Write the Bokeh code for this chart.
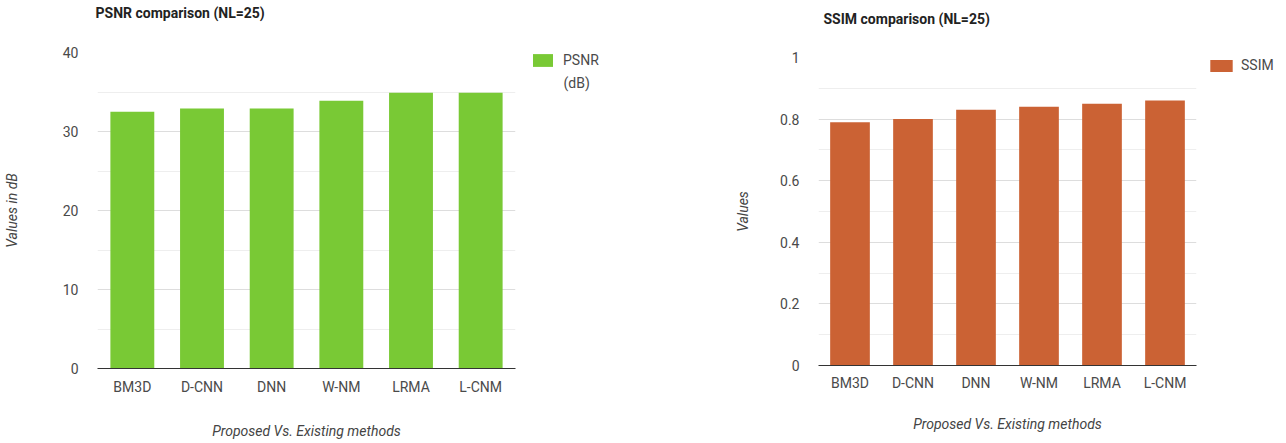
from bokeh.plotting import figure
from bokeh.layouts import row, column
from bokeh.models import Range1d, FactorRange, FixedTicker, Legend, LegendItem, ColumnDataSource, Label
from bokeh.embed import file_html
from bokeh.resources import INLINE

methods = ["BM3D", "D-CNN", "DNN", "W-NM", "LRMA", "L-CNM"]
psnr_values = [32.5, 32.9, 32.9, 33.9, 34.9, 34.9]
ssim_values = [0.79, 0.80, 0.83, 0.84, 0.85, 0.86]
psnr_ticks = [0, 10, 20, 30, 40]
psnr_minor = [5, 15, 25, 35]
ssim_ticks = [0, 0.2, 0.4, 0.6, 0.8, 1]
ssim_minor = [0.1, 0.3, 0.5, 0.7, 0.9]
ssim_tick_labels = ["0", "0.2", "0.4", "0.6", "0.8", "1"]

FONT = "Roboto"
TICK_COLOR = "#4a4a4a"
GREEN = "#79c935"
ORANGE = "#cb6234"


def blank(width, height, x_range=None, y_range=None):
    f = figure(width=width, height=height,
               x_range=x_range if x_range is not None else Range1d(0, 1),
               y_range=y_range if y_range is not None else Range1d(0, 1),
               x_axis_type=None, y_axis_type=None, output_backend="svg",
               toolbar_location=None, min_border_left=0, min_border_right=0,
               min_border_top=0, min_border_bottom=0)
    f.outline_line_color = None
    return f


def title_strip(text, width, height, x, y):
    t = blank(width, height)
    t.add_layout(Label(x=x, y=y, x_units="screen", y_units="screen", text=text,
                       text_font=FONT, text_font_size="14px", text_font_style="bold",
                       text_color="#222222", text_baseline="middle", text_align="left"))
    return t


def legend_strip(width, height, src, color, label, glyph_w, glyph_h, standoff):
    # legend proxy: same data, zero-width and off-range so only the legend swatch shows
    f = blank(width, height, FactorRange(factors=methods), Range1d(-2, -1))
    r = f.vbar(x="x", top="top", width=0, source=src, fill_color=color, line_color=None)
    lg = Legend(items=[LegendItem(label=label, renderers=[r])], location="top_left",
                margin=0, padding=0, border_line_color=None, background_fill_alpha=0,
                glyph_width=glyph_w, glyph_height=glyph_h, label_text_font=FONT,
                label_text_font_size="14px", label_text_color=TICK_COLOR,
                label_standoff=standoff, label_height=glyph_h)
    f.add_layout(lg, "center")
    return f


def chart(src, color, y_max, ticks, minor, ylabel, w, h, bl, br, bt, bb,
          ylab_standoff, xtick_standoff, xlab_standoff, overrides=None):
    p = figure(width=w, height=h, x_range=FactorRange(factors=methods),
               y_range=Range1d(0, y_max), output_backend="svg", toolbar_location=None,
               min_border_left=bl, min_border_right=br, min_border_top=bt, min_border_bottom=bb)
    p.vbar(x="x", top="top", width=0.63, source=src, fill_color=color, line_color=None)
    p.outline_line_color = None
    p.yaxis.ticker = FixedTicker(ticks=ticks, minor_ticks=minor)
    if overrides:
        p.yaxis.major_label_overrides = overrides
    p.yaxis.axis_line_color = None
    p.yaxis.major_tick_line_color = None
    p.yaxis.minor_tick_line_color = None
    p.yaxis.major_label_standoff = 13
    p.yaxis.axis_label = ylabel
    p.yaxis.axis_label_standoff = ylab_standoff
    p.xaxis.axis_label = "Proposed Vs. Existing methods"
    p.xaxis.axis_label_standoff = xlab_standoff
    p.xaxis.axis_line_color = "#333333"
    p.xaxis.major_tick_line_color = None
    p.xaxis.minor_tick_line_color = None
    p.xaxis.major_label_standoff = xtick_standoff
    for ax in (p.xaxis, p.yaxis):
        ax.major_label_text_font = FONT
        ax.major_label_text_font_size = "14px"
        ax.major_label_text_color = TICK_COLOR
        ax.axis_label_text_font = FONT
        ax.axis_label_text_font_size = "14px"
        ax.axis_label_text_font_style = "italic"
        ax.axis_label_text_color = "#444444"
    p.xgrid.grid_line_color = None
    p.ygrid.grid_line_color = "#dddddd"
    p.ygrid.minor_grid_line_color = "#eeeeee"
    return p


psnr_src = ColumnDataSource(dict(x=methods, top=psnr_values))
ssim_src = ColumnDataSource(dict(x=methods, top=ssim_values))

# Left chart: PSNR (frame spans y 52..368 in the page)
t1 = title_strip("PSNR comparison (NL=25)", 643, 40, 95, 28)
p1 = chart(psnr_src, GREEN, 40, psnr_ticks, psnr_minor, "Values in dB",
           530, 403, 95, 15, 12, 75, 40, 4, 25)
lf1 = legend_strip(113, 403, psnr_src, GREEN, "PSNR", 25, 16, 8)
# second line of the legend label; screen y counted up from the aligned frame bottom
lf1.add_layout(Label(x=33, y=286, x_units="screen", y_units="screen", text="(dB)",
                     text_font=FONT, text_font_size="14px", text_color=TICK_COLOR,
                     text_baseline="middle", text_align="left"))
left = column(t1, row(p1, lf1))

# Right chart: SSIM
t2 = title_strip("SSIM comparison (NL=25)", 643, 45, 180, 27)
p2 = chart(ssim_src, ORANGE, 1, ssim_ticks, ssim_minor, "Values",
           564, 398, 175, 11, 12, 78, 26, 3, 22,
           overrides={t: s for t, s in zip(ssim_ticks, ssim_tick_labels)})
lf2 = legend_strip(79, 398, ssim_src, ORANGE, "SSIM", 28, 15, 6)
right = column(t2, row(p2, lf2))

layout = row(left, right)
open("out.html", "w").write(file_html(layout, INLINE))
